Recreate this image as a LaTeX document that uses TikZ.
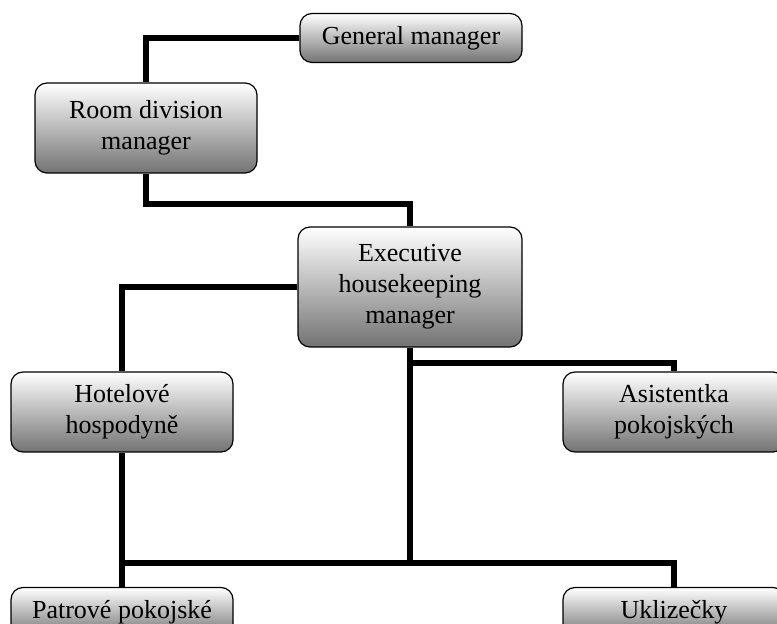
\documentclass[tikz,border=0pt]{standalone}
\usepackage{fontspec}
\setmainfont{Liberation Serif}
\usetikzlibrary{calc}

\begin{document}
\begin{tikzpicture}[
    x=1pt, y=1pt,
    unit/.style={draw, rounded corners=12pt, line width=1.2pt, align=center,
      top color=white, bottom color=black!55, minimum width=222pt,
      font=\fontsize{26}{31}\selectfont, inner sep=2pt},
    link/.style={line width=6pt}
  ]
    \useasboundingbox (0,0) rectangle (777,624);
    \clip (0,0) rectangle (777,624);
    \node[unit, minimum height=49pt] (gm) at (411,586) {General manager};
    \node[unit, minimum height=90pt] (room) at (146,496) {Room division\\manager};
    \node[unit, minimum width=224pt, minimum height=120pt] (exec) at (410,337) {Executive\\housekeeping\\manager};
    \node[unit, minimum height=80pt] (hotel) at (122,212) {Hotelové\\hospodyně};
    \node[unit, minimum height=80pt] (asist) at (674,212) {Asistentka\\pokojských};
    \node[unit, minimum height=49pt] (patr) at (122,12) {Patrové pokojské};
    \node[unit, minimum height=49pt] (uklz) at (674,12) {Uklizečky};
    \coordinate (bus) at (0,61);
    \draw[link] (gm.west) -| (room.north);
    \draw[link] (room.south) -- ++(0,-30) -| (exec.north);
    \draw[link] (exec.west) -| (hotel.north);
    \draw[link] (exec.south) -- ++(0,-15) -| (asist.north);
    \draw[link] (exec.south) -- (exec.south |- bus);
    \draw[link] (hotel.south) -- (patr.north);
    \draw[link] (hotel.south |- bus) -| (uklz.north);
  \end{tikzpicture}
\end{document}
